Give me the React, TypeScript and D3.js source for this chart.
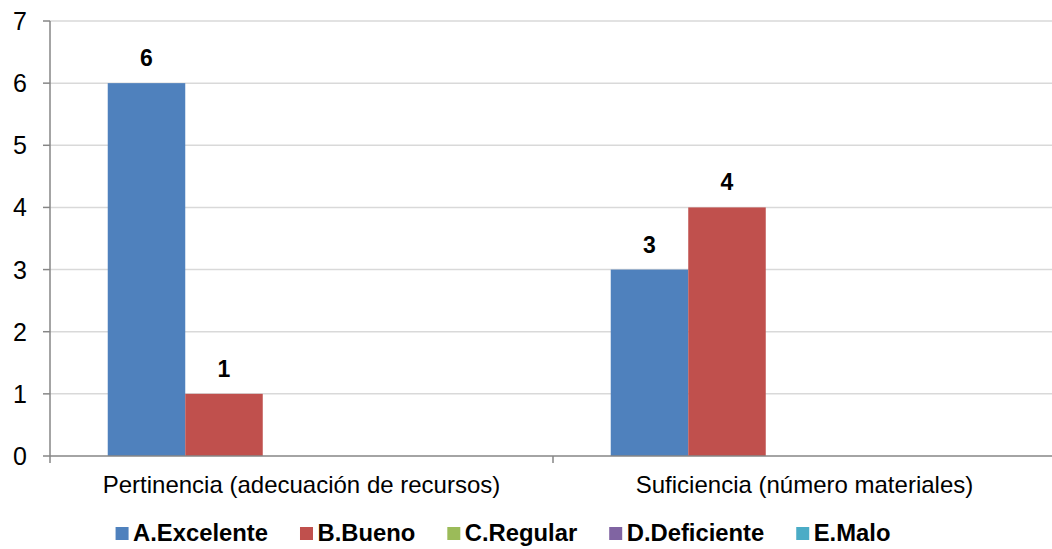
import React from "react";
import * as d3 from "d3";

const categories = ["Pertinencia (adecuación de recursos)", "Suficiencia (número materiales)"];
const seriesNames = ["A.Excelente", "B.Bueno", "C.Regular", "D.Deficiente", "E.Malo"];
const seriesColors = ["#4F81BD", "#C0504D", "#9BBB59", "#8064A2", "#4BACC6"];
const valuesA = [6, 3];
const valuesB = [1, 4];
const valuesC = [0, 0];
const valuesD = [0, 0];
const valuesE = [0, 0];
const seriesValues = [valuesA, valuesB, valuesC, valuesD, valuesE];
const yTicks = [0, 1, 2, 3, 4, 5, 6, 7];

const W = 1052;
const H = 549;
const M = { left: 50, right: 0, top: 21, bottom: 93 };
const FONT = "Arial, 'Liberation Sans', Helvetica, sans-serif";

function measure(text: string, font: string): number {
  const c = document.createElement("canvas");
  const ctx = c.getContext("2d");
  if (!ctx) return text.length * 12;
  ctx.font = font;
  return ctx.measureText(text).width;
}

export default function App() {
  const x0 = d3.scaleBand<string>().domain(categories).range([M.left, 1056]).paddingInner(0).paddingOuter(0);
  const x1 = d3.scaleBand<string>().domain(seriesNames).range([0, x0.bandwidth()]).paddingInner(0).paddingOuter(0.745);
  const y = d3.scaleLinear().domain([0, 7]).range([H - M.bottom, M.top]);

  const legendFont = `bold 23.8px ${FONT}`;
  const sw = 13;
  const gapText = 4.5;
  const gapItem = 32;
  const widths = seriesNames.map((s) => measure(s, legendFont));
  const total = widths.reduce((a, w) => a + sw + gapText + w, 0) + gapItem * (seriesNames.length - 1);
  let lx = 503 - total / 2;
  const legendItems = seriesNames.map((s, i) => {
    const item = { name: s, color: seriesColors[i], x: lx };
    lx += sw + gapText + widths[i] + gapItem;
    return item;
  });

  const boundaries = [M.left, ...categories.map((c) => (x0(c) as number) + x0.bandwidth())];

  return (
    <svg width={W} height={H} style={{ position: "absolute", left: 0, top: 0, background: "#fff" }} fontFamily={FONT}>
      {yTicks.slice(1).map((t) => (
        <line key={"g" + t} x1={M.left} x2={W - M.right} y1={y(t)} y2={y(t)} stroke="#d9d9d9" strokeWidth={1.5} />
      ))}
      {categories.map((c, ci) =>
        seriesNames.map((s, si) => {
          const v = seriesValues[si][ci];
          if (!v) return null;
          const bx = (x0(c) as number) + (x1(s) as number);
          return (
            <g key={c + s}>
              <rect x={bx} y={y(v)} width={x1.bandwidth()} height={y(0) - y(v)} fill={seriesColors[si]} />
              <text x={bx + x1.bandwidth() / 2} y={y(v) - 17} textAnchor="middle" fontWeight="bold" fontSize={23} fill="#000">
                {v}
              </text>
            </g>
          );
        })
      )}
      <line x1={M.left} x2={M.left} y1={M.top} y2={y(0)} stroke="#868686" strokeWidth={1.5} />
      <line x1={M.left} x2={W - M.right} y1={y(0)} y2={y(0)} stroke="#868686" strokeWidth={1.5} />
      {yTicks.map((t) => (
        <g key={"t" + t}>
          <line x1={M.left - 7} x2={M.left} y1={y(t)} y2={y(t)} stroke="#868686" strokeWidth={1.5} />
          <text x={M.left - 23} y={y(t)} dy="0.36em" textAnchor="end" fontSize={25} fill="#000">
            {t}
          </text>
        </g>
      ))}
      {boundaries.map((b, i) => (
        <line key={"b" + i} x1={b} x2={b} y1={y(0)} y2={y(0) + 7} stroke="#868686" strokeWidth={1.5} />
      ))}
      {categories.map((c) => (
        <text key={"c" + c} x={(x0(c) as number) + x0.bandwidth() / 2} y={493} textAnchor="middle" fontSize={24} fill="#000">
          {c}
        </text>
      ))}
      {legendItems.map((it) => (
        <g key={"l" + it.name}>
          <rect x={it.x} y={527} width={sw} height={sw} fill={it.color} />
          <text x={it.x + sw + gapText} y={541} fontSize={23.8} fontWeight="bold" fill="#000">
            {it.name}
          </text>
        </g>
      ))}
    </svg>
  );
}
